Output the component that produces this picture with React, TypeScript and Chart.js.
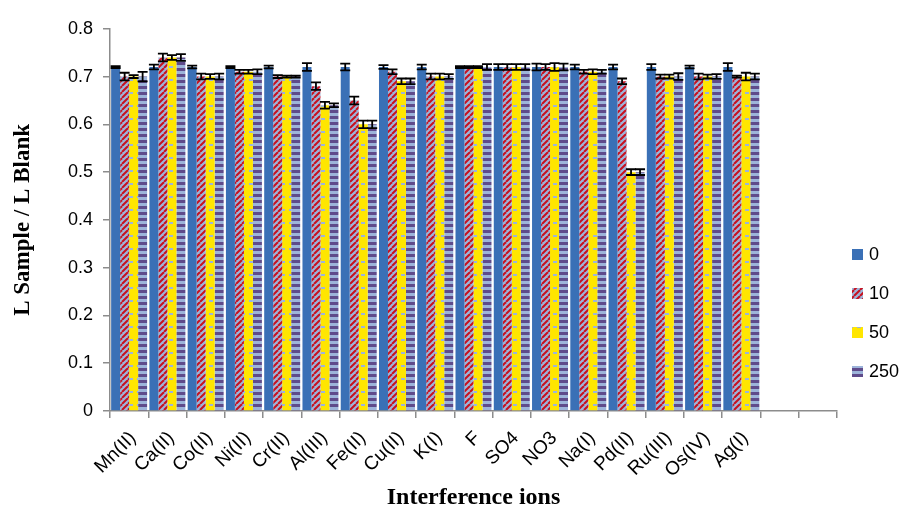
import React, { useEffect, useRef } from "react";
import { Chart, registerables } from "chart.js";

Chart.register(...registerables);

const categories = ["Mn(II)", "Ca(II)", "Co(II)", "Ni(II)", "Cr(II)", "Al(III)", "Fe(II)", "Cu(II)", "K(I)", "F", "SO4", "NO3", "Na(I)", "Pd(II)", "Ru(III)", "Os(IV)", "Ag(I)", "", ""];
const seriesNames = ["0", "10", "50", "250"];
const s0 = [0.72, 0.72, 0.72, 0.72, 0.72, 0.72, 0.72, 0.72, 0.72, 0.72, 0.72, 0.72, 0.72, 0.72, 0.72, 0.72, 0.72];
const s10 = [0.70, 0.74, 0.70, 0.71, 0.70, 0.68, 0.65, 0.71, 0.70, 0.72, 0.72, 0.72, 0.71, 0.69, 0.70, 0.70, 0.70];
const s50 = [0.70, 0.74, 0.70, 0.71, 0.70, 0.64, 0.60, 0.69, 0.70, 0.72, 0.72, 0.72, 0.71, 0.50, 0.70, 0.70, 0.70];
const s250 = [0.70, 0.74, 0.70, 0.71, 0.70, 0.64, 0.60, 0.69, 0.70, 0.72, 0.72, 0.72, 0.71, 0.50, 0.70, 0.70, 0.70];
const e0 = [0.002, 0.005, 0.003, 0.002, 0.003, 0.008, 0.007, 0.004, 0.005, 0.002, 0.006, 0.007, 0.005, 0.005, 0.006, 0.003, 0.008];
const e10 = [0.008, 0.008, 0.006, 0.004, 0.003, 0.008, 0.008, 0.005, 0.006, 0.002, 0.006, 0.006, 0.004, 0.006, 0.004, 0.006, 0.002];
const e50 = [0.003, 0.005, 0.005, 0.004, 0.002, 0.007, 0.008, 0.006, 0.006, 0.002, 0.006, 0.008, 0.005, 0.006, 0.004, 0.004, 0.008];
const e250 = [0.010, 0.007, 0.006, 0.005, 0.002, 0.004, 0.008, 0.006, 0.005, 0.006, 0.006, 0.007, 0.004, 0.006, 0.007, 0.005, 0.006];
const yTicks = [0, 0.1, 0.2, 0.3, 0.4, 0.5, 0.6, 0.7, 0.8];

const LIGHT = "#9db4da";
const SANS = "'Liberation Sans', Arial, sans-serif";
const SERIF = "'Liberation Serif', 'Times New Roman', serif";

function makePattern(kind: string): CanvasPattern | string {
  const c = document.createElement("canvas");
  const ctx = c.getContext("2d")!;
  if (kind === "diag") {
    c.width = 6; c.height = 6;
    ctx.fillStyle = LIGHT; ctx.fillRect(0, 0, 6, 6);
    ctx.strokeStyle = "#c8101e"; ctx.lineWidth = 2;
    for (let k = -6; k <= 12; k += 6) {
      ctx.beginPath(); ctx.moveTo(k, 6); ctx.lineTo(k + 6, 0); ctx.stroke();
    }
  } else if (kind === "dash") {
    c.width = 8; c.height = 13;
    ctx.fillStyle = "#ffe600"; ctx.fillRect(0, 0, 8, 13);
    ctx.fillStyle = LIGHT; ctx.fillRect(1, 6, 4, 2);
  } else {
    c.width = 6; c.height = 6;
    ctx.fillStyle = LIGHT; ctx.fillRect(0, 0, 6, 6);
    ctx.fillStyle = "#5f4b8b"; ctx.fillRect(0, 0, 6, 3);
  }
  return ctx.createPattern(c, "repeat")!;
}

export default function App() {
  const ref = useRef<HTMLCanvasElement>(null);
  useEffect(() => {
    const fills = ["#3a70b6", makePattern("diag"), makePattern("dash"), makePattern("hstripe")];
    const values = [s0, s10, s50, s250];
    const errors = [e0, e10, e50, e250];

    const errorBars = {
      id: "errorBars",
      afterDatasetsDraw(chart: any) {
        const ctx = chart.ctx;
        const y = chart.scales.y;
        ctx.save();
        ctx.strokeStyle = "#000";
        ctx.lineWidth = 1.8;
        values.forEach((vals, i) => {
          const meta = chart.getDatasetMeta(i);
          vals.forEach((v, j) => {
            const el = meta.data[j];
            if (!el) return;
            const e = errors[i][j];
            const x = el.x;
            const yt = y.getPixelForValue(v + e);
            const yb = y.getPixelForValue(v - e);
            ctx.beginPath();
            ctx.moveTo(x, yt); ctx.lineTo(x, yb);
            ctx.moveTo(x - 5, yt); ctx.lineTo(x + 5, yt);
            ctx.moveTo(x - 5, yb); ctx.lineTo(x + 5, yb);
            ctx.stroke();
          });
        });
        ctx.restore();
      },
    };

    const customLegend = {
      id: "customLegend",
      afterDraw(chart: any) {
        const ctx = chart.ctx;
        const left = chart.chartArea.right + 15;
        ctx.save();
        ctx.font = `18px ${SANS}`;
        ctx.textBaseline = "middle";
        seriesNames.forEach((name, i) => {
          const cy = 246 + i * 39;
          ctx.fillStyle = fills[i] as any;
          ctx.fillRect(left, cy - 5, 11, 11);
          ctx.fillStyle = "#000";
          ctx.fillText(name, left + 17, cy + 1);
        });
        ctx.restore();
      },
    };

    const chart = new Chart(ref.current!, {
      type: "bar",
      data: {
        labels: categories,
        datasets: values.map((vals, i) => ({
          label: seriesNames[i],
          data: vals,
          backgroundColor: fills[i] as any,
          borderWidth: 0,
          categoryPercentage: 0.94,
          barPercentage: 1.0,
        })),
      },
      options: {
        responsive: false,
        animation: false,
        layout: { padding: { top: 14, right: 76, left: 0, bottom: 0 } },
        plugins: { legend: { display: false }, tooltip: { enabled: false } },
        scales: {
          x: {
            offset: true,
            grid: { display: true, drawOnChartArea: false, tickLength: 7, color: "#8c8c8c", lineWidth: 1.5, offset: true },
            border: { color: "#8c8c8c", width: 1.5 },
            ticks: {
              autoSkip: false, minRotation: 45, maxRotation: 45, color: "#000", padding: 9,
              labelOffset: 4,
              font: { family: SANS, size: 19 },
            },
            title: {
              display: true, text: "Interference ions", color: "#000",
              font: { family: SERIF, size: 24, weight: "bold" },
              padding: { top: 0, bottom: -7 },
            },
            afterFit: (s: any) => { s.height = 94; },
          },
          y: {
            min: 0, max: 0.8,
            afterBuildTicks: (s: any) => { s.ticks = yTicks.map((v) => ({ value: v })); },
            grid: { display: true, drawOnChartArea: false, tickLength: 7, color: "#8c8c8c", lineWidth: 1.5 },
            border: { color: "#8c8c8c", width: 1.5 },
            ticks: {
              color: "#000", padding: 10,
              font: { family: SANS, size: 18 },
              callback: (v: any) => (Number(v) === 0 ? "0" : Number(v).toFixed(1)),
            },
            title: {
              display: true, text: "L Sample / L Blank", color: "#000",
              font: { family: SERIF, size: 23, weight: "bold" },
              padding: { top: 1, bottom: 0 },
            },
            afterFit: (s: any) => { s.width = 102; },
          },
        },
      },
      plugins: [errorBars, customLegend],
    });
    return () => chart.destroy();
  }, []);
  return (
    <div style={{ width: 905, height: 497 }}>
      <canvas ref={ref} width={905} height={497} />
    </div>
  );
}
